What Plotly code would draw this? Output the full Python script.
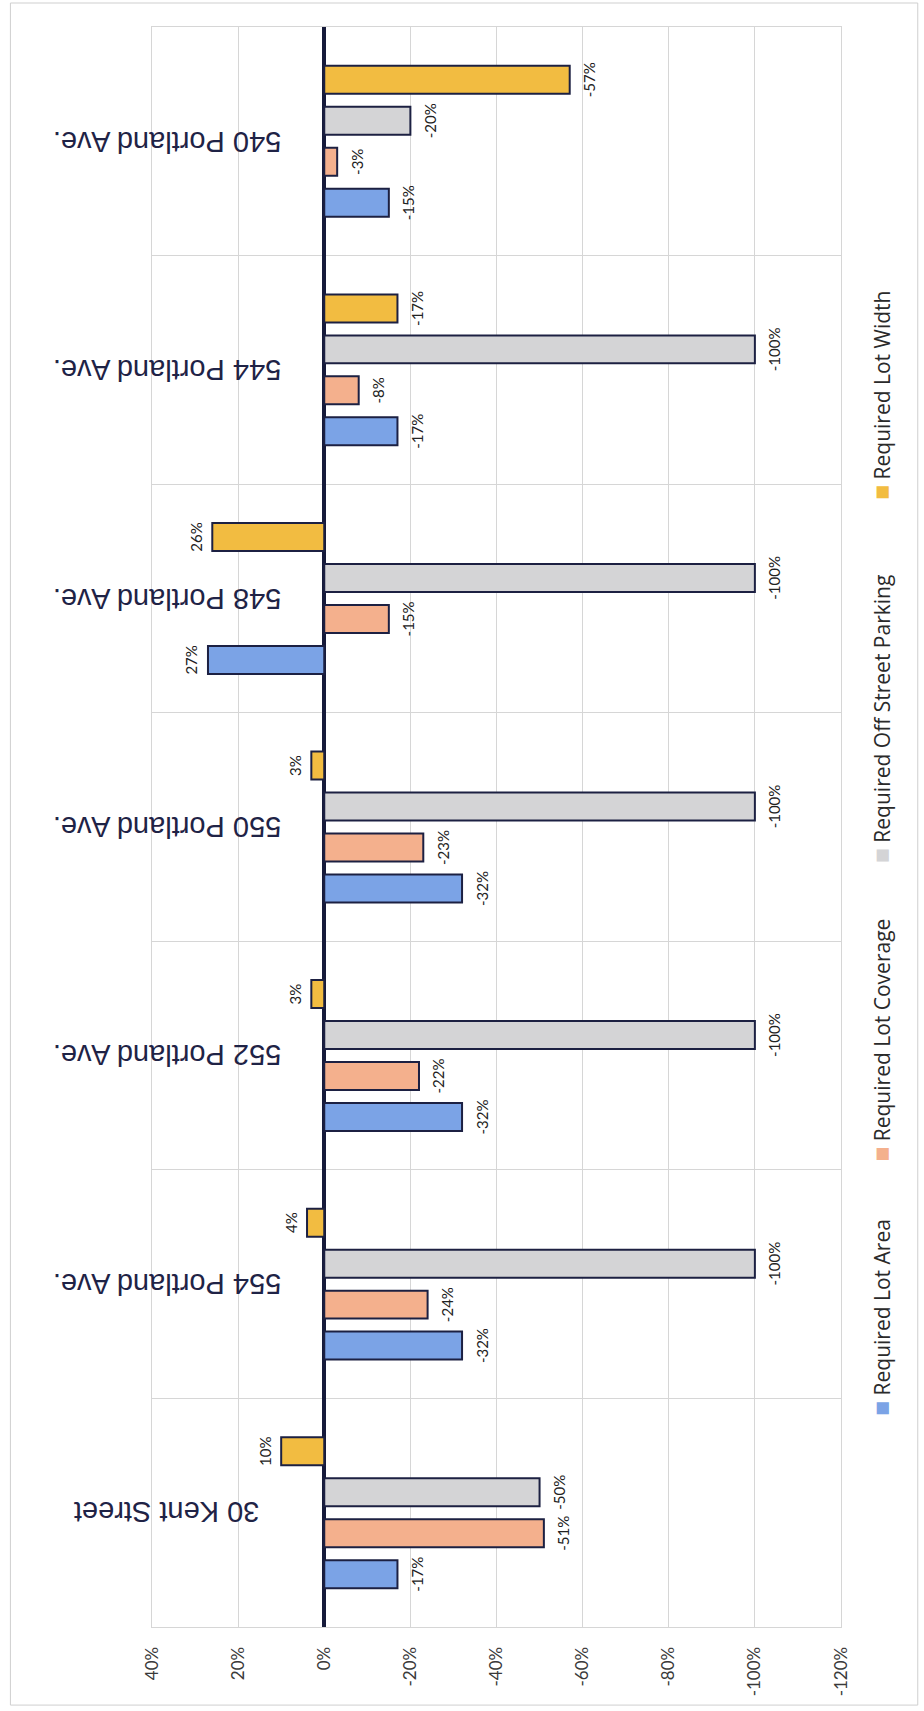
import plotly.graph_objects as go

# Sites, listed bottom to top along the category axis
sites = [
    "30 Kent Street",
    "554 Portland Ave.",
    "552 Portland Ave.",
    "550 Portland Ave.",
    "548 Portland Ave.",
    "544 Portland Ave.",
    "540 Portland Ave.",
]

# Percentage difference from the zoning requirement, per site
lot_area = [-17, -32, -32, -32, 27, -17, -15]
lot_coverage = [-51, -24, -22, -23, -15, -8, -3]
off_street_parking = [-50, -100, -100, -100, -100, -100, -20]
lot_width = [10, 4, 3, 3, 26, -17, -57]

series_names = [
    "Required Lot Area",
    "Required Lot Coverage",
    "Required Off Street Parking",
    "Required Lot Width",
]
series_values = [lot_area, lot_coverage, off_street_parking, lot_width]
series_colors = ["#7ba3e6", "#f4b08d", "#d4d4d6", "#f2bc41"]

tick_values = [40, 20, 0, -20, -40, -60, -80, -100, -120]
tick_labels = [f"{v}%" for v in tick_values]

OUTLINE = "#1c2042"
GRID = "#d6d6d6"
LABEL_FONT = "Lato"
LABEL_SIZE = 15

# A tiny blank line on the bar side of each value label pushes it a little
# further away from the end of its bar.  The line pitch follows the base
# font size, so positive labels use a small base size for a shorter push.
SPACER = "<span style='font-size:3px'>\u00a0</span>"


def value_label(v):
    text = f"<span style='font-size:{LABEL_SIZE}px'>{v}%</span>"
    return f"{text}<br>{SPACER}" if v > 0 else f"{SPACER}<br>{text}"


def label_base_size(v):
    return 5 if v > 0 else LABEL_SIZE


fig = go.Figure()

for name, vals, color in zip(series_names, series_values, series_colors):
    fig.add_trace(
        go.Bar(
            y=sites,
            x=vals,
            orientation="h",
            name=name,
            marker=dict(color=color, line=dict(color=OUTLINE, width=2)),
            text=[value_label(v) for v in vals],
            textposition="outside",
            textangle=-90,
            constraintext="none",
            cliponaxis=False,
            textfont=dict(
                family=LABEL_FONT,
                size=[label_base_size(v) for v in vals],
                color="#222222",
            ),
            showlegend=False,
        )
    )

# Site names, drawn upside down beside each group
for site in sites:
    fig.add_annotation(
        x=0.022, xref="paper", y=site, yref="y",
        text=site, textangle=180, showarrow=False,
        xanchor="center", yanchor="middle",
        font=dict(family="Liberation Sans", size=29, color="#1f2346"),
    )

# Vertical legend along the right edge
legend_y = [0.19375, 0.367, 0.568, 0.77]
for name, color, ly in zip(series_names, series_colors, legend_y):
    fig.add_annotation(
        x=1.0566, xref="paper", y=ly, yref="paper",
        text=f"<span style='color:{color};font-size:25px'>■</span> {name}",
        textangle=-90, showarrow=False,
        xanchor="center", yanchor="middle",
        font=dict(family="Open Sans", size=21, color="#2a2a2a"),
    )

# Outer frame of the chart
fig.add_shape(
    type="rect", xref="paper", yref="paper",
    x0=-0.2055, x1=1.1114, y0=-0.0488, y1=1.015,
    line=dict(color="#cfcfcf", width=1), fillcolor="rgba(0,0,0,0)", layer="below",
)

fig.update_layout(
    width=924,
    height=1711,
    margin=dict(l=152, r=83, t=27, b=84),
    paper_bgcolor="white",
    plot_bgcolor="white",
    barmode="group",
    bargap=0.283,
    bargroupgap=0.317,
    xaxis=dict(
        range=[40, -120],
        tickvals=tick_values,
        ticktext=tick_labels,
        tickangle=-90,
        tickfont=dict(family=LABEL_FONT, size=17, color="#3a3a3a"),
        ticks="",
        ticklabelstandoff=12,
        showgrid=True,
        gridcolor=GRID,
        gridwidth=1,
        zeroline=True,
        zerolinecolor="#161a3a",
        zerolinewidth=4,
        showline=True,
        linecolor=GRID,
        linewidth=1,
        mirror=True,
    ),
    yaxis=dict(
        type="category",
        categoryorder="array",
        categoryarray=sites,
        tickson="boundaries",
        showticklabels=False,
        ticks="",
        showgrid=True,
        gridcolor=GRID,
        gridwidth=1,
        showline=True,
        linecolor=GRID,
        linewidth=1,
        mirror=True,
    ),
)

fig.write_html("out.html")
